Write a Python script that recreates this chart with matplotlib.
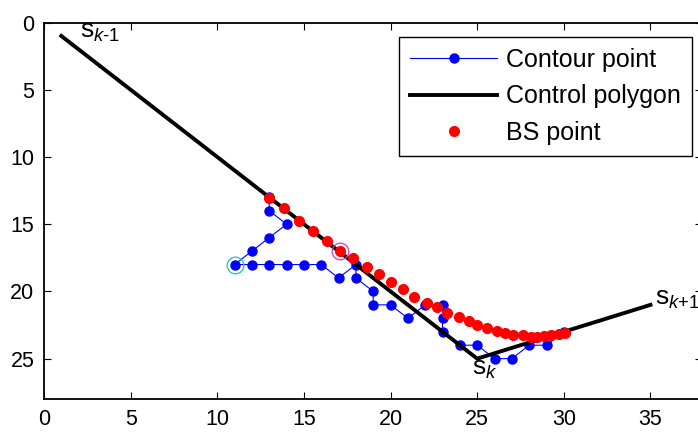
import matplotlib
matplotlib.use("Agg")
import matplotlib.pyplot as plt

plt.rcParams['font.family'] = ['Liberation Sans', 'DejaVu Sans']
plt.rcParams['mathtext.fontset'] = 'custom'
plt.rcParams['mathtext.rm'] = 'Liberation Sans'
plt.rcParams['mathtext.it'] = 'Liberation Sans:italic'

# contour points (pixel chain)
contour_x = [13, 13, 14, 13, 12, 11, 12, 13, 14, 15, 16, 17, 18, 18, 19, 19, 20, 21, 22, 23,
             23, 23, 24, 25, 26, 27, 28, 29, 30]
contour_y = [13, 14, 15, 16, 17, 18, 18, 18, 18, 18, 18, 19, 18, 19, 20, 21, 21, 22, 21, 21,
             22, 23, 24, 24, 25, 25, 24, 24, 23]

# control polygon s_{k-1}, s_k, s_{k+1}
poly_x = [1, 25, 35]
poly_y = [1, 25, 21]

# BS points
bs_x = [12.98, 13.87, 14.71, 15.5, 16.31, 17.1, 17.85, 18.62, 19.36, 20.04, 20.7, 21.37,
        22.08, 22.7, 23.24, 23.93, 24.52, 24.98, 25.55, 26.12, 26.6, 27.06, 27.66, 28.1,
        28.47, 28.88, 29.26, 29.7, 30.06]
bs_y = [13.07, 13.82, 14.74, 15.49, 16.23, 16.98, 17.55, 18.15, 18.73, 19.3, 19.79, 20.4,
        20.83, 21.15, 21.58, 21.89, 22.2, 22.5, 22.75, 22.95, 23.1, 23.23, 23.25, 23.37,
        23.38, 23.35, 23.24, 23.17, 23.09]

# highlighted start points
start_pt = (11, 18)
bs_start = (17.1, 16.98)

fig = plt.figure(figsize=(6.98, 4.32), dpi=100)
ax = fig.add_axes([0.063, 0.0764, 0.9434, 0.8715])

ax.plot(contour_x, contour_y, '-o', color='blue', lw=0.8, ms=6.5, mfc='blue', mec='blue',
        label='Contour point')
ax.plot(poly_x, poly_y, '-', color='black', lw=2.8, label='Control polygon')
ax.plot(bs_x, bs_y, 'o', color='red', ms=7, mec='red', label='BS point', zorder=3)

ax.plot(*start_pt, 'o', ms=12, mfc='none', mec='#20c0c0', mew=0.9)
ax.plot(*bs_start, 'o', ms=12, mfc='none', mec='#c040c0', mew=0.9)

ax.text(2.08, 1.16, r'$\mathregular{s}_{k\text{-}1}$', fontsize=19, va='baseline')
ax.text(24.68, 26.18, r'$\mathregular{s}_{k}$', fontsize=19, va='baseline')
ax.text(35.26, 20.96, r'$\mathregular{s}_{k\text{+}1}$', fontsize=19, va='baseline')

ax.set_xlim(0, 38)
ax.set_ylim(28, 0)
ax.set_xticks(range(0, 40, 5))
ax.set_yticks(range(0, 30, 5))
ax.tick_params(direction='in', length=5, width=0.8, top=True, right=True,
               labelsize=15.5, pad=7)
for s in ax.spines.values():
    s.set_linewidth(1.3)

leg = ax.legend(loc='upper right', bbox_to_anchor=(0.991, 0.915),
                bbox_transform=fig.transFigure, fontsize=18, handlelength=3.5,
                handletextpad=0.33, borderpad=0.45, labelspacing=0.5, borderaxespad=0,
                fancybox=False, framealpha=1, edgecolor='black')
leg.get_frame().set_linewidth(1.0)

fig.savefig('out.png', dpi=100)
